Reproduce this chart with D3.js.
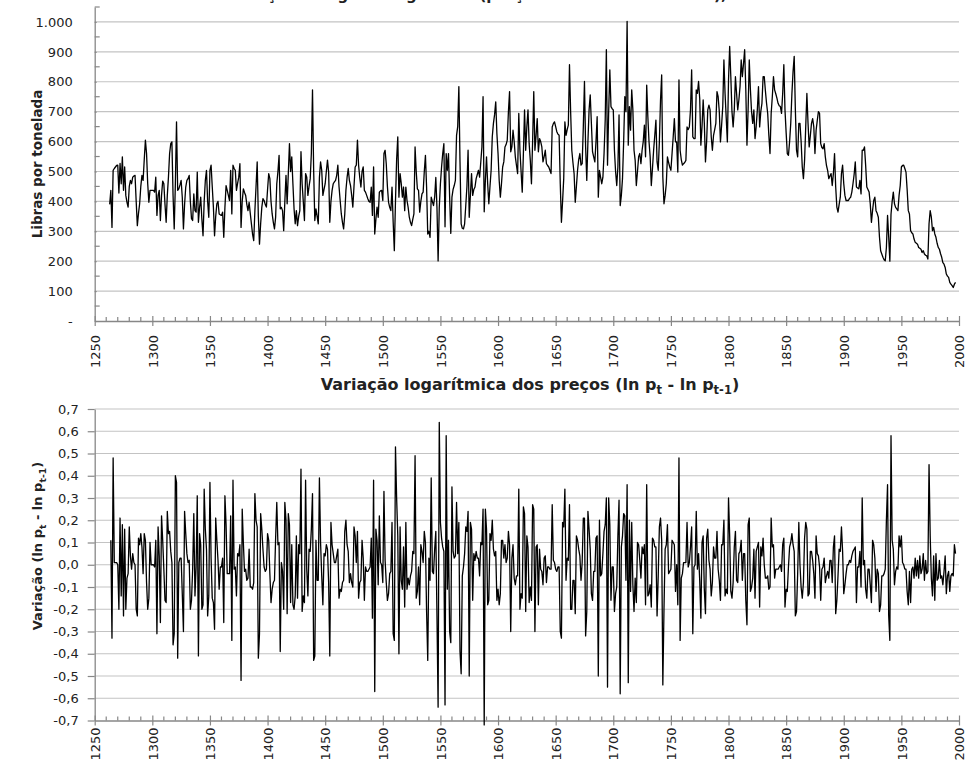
<!DOCTYPE html>
<html>
<head>
<meta charset="utf-8">
<script src="https://cdn.jsdelivr.net/npm/d3@7"></script>
<style>
  body { margin: 0; background: #fff; }
  svg { display: block; }
  text { font-family: "DejaVu Sans", Verdana, sans-serif; }
</style>
</head>
<body>
<svg id="chart" width="973" height="769"></svg>
<script>
// Wheat price, pounds per tonne, one value per year
const firstPriceYear = 1263;
const prices = [
  390,437,313,504,510,515,520,521,428,527,459,549,437,
  515,420,397,381,450,470,459,481,485,487,400,319,360,392,450,
  487,470,540,605,560,459,397,437,437,437,
  437,431,481,353,420,437,336,420,468,459,
  390,330,420,481,560,593,599,420,308,459,
  666,437,442,455,470,414,308,390,448,470,
  476,487,400,342,336,425,369,364,498,330,
  380,414,340,285,400,470,504,400,347,504,
  521,450,381,285,350,392,400,358,355,353,
  364,280,380,453,437,420,403,504,358,521,
  510,504,437,460,481,
  526,313,400,442,430,420,390,369,397,360,
  325,290,269,369,450,532,350,257,325,380,
  409,403,390,381,440,493,476,400,358,330,
  308,347,459,500,554,375,380,369,302,400,
  487,392,493,593,500,549,459,375,325,369,
  319,350,369,566,459,400,336,493,481,420,
  450,476,560,773,504,336,375,350,325,480,
  532,504,420,440,459,500,538,498,330,400,
  437,459,465,470,487,521,450,403,358,330,
  308,358,437,480,510,470,453,420,381,450,
  515,521,605,521,480,448,500,515,437,431,
  420,409,400,397,448,353,515,291,340,381,
  347,431,435,437,403,560,
  571,526,450,397,380,369,448,330,235,400,
  540,616,414,493,460,414,448,369,448,403,
  380,347,330,319,340,358,582,500,442,437,
  364,400,425,431,500,554,448,291,300,280,
  414,400,386,414,480,380,201,380,459,515,
  560,593,315,560,504,560,414,293,414,440,
  453,470,621,650,784,532,325,310,308,325,
  386,450,571,347,420,493,420,440,448,476,
  490,504,481,530,582,750,365,470,549,459,
  392,450,504,616,661,690,733,627,560,470,
  414,460,515,532,582,590,605,700,767,566,
  582,638,600,549,520,493,694,571,500,431,
  560,706,571,650,706,593,
  537,459,600,767,571,620,677,566,610,600,
  582,532,550,571,526,520,515,504,493,649,
  660,666,650,633,625,621,459,330,400,476,
  666,621,640,655,857,700,571,530,493,397,
  450,504,540,560,521,526,650,801,582,470,
  600,706,756,661,566,549,532,600,683,414,
  504,480,459,481,560,672,907,521,700,840,
  717,710,706,571,500,453,515,689,386,420,
  476,599,750,700,1002,588,717,638,773,706,
  571,537,453,500,549,560,526,571,600,655,
  549,789,683,600,549,453,510,571,620,672,
  532,504,600,739,823,481,392,420,459,549,
  530,515,504,560,616,
  677,599,599,498,806,571,540,521,526,530,
  537,649,640,649,706,840,616,610,610,773,
  761,801,745,588,650,739,661,532,600,706,
  722,706,616,571,621,640,661,767,750,700,
  599,655,717,873,761,680,599,806,918,817,
  700,649,706,817,761,706,740,784,873,817,
  860,907,773,588,706,873,773,700,661,706,
  610,650,706,784,649,700,728,817,817,770,
  728,694,620,560,694,750,817,773,760,745,
  728,720,717,694,761,857,706,630,560,554,
  600,661,760,834,885,706,571,549,661,661,
  600,515,476,537,650,761,661,582,620,661,
  677,649,560,638,670,700,
  694,593,580,576,593,549,520,504,476,485,
  493,453,493,560,448,381,364,390,414,493,
  521,459,420,403,403,403,410,414,431,459,
  490,532,448,445,442,470,425,571,571,582,
  520,448,440,431,392,330,370,403,414,369,
  360,347,280,235,224,213,205,201,246,353,
  280,200,357,400,431,392,380,375,369,420,
  453,515,520,521,510,498,440,369,358,302,
  295,291,274,263,260,257,246,243,240,229,
  235,224,220,218,207,325,369,347,302,313,
  291,280,260,246,240,225,213,195,190,179,
  157,150,146,129,123,118,112,123,129
];

// Yearly log change of the price, ln p(t) - ln p(t-1)
const firstChangeYear = 1264;
const logChanges = [
  0.11,-0.33,0.48,0.01,0.01,0.01,0.00,-0.20,0.21,-0.14,0.18,-0.23,
  0.16,-0.20,-0.06,-0.04,0.17,0.04,-0.02,0.05,0.01,0.00,-0.20,-0.23,0.12,0.09,0.14,
  0.08,-0.04,0.14,0.11,-0.08,-0.20,-0.15,0.10,0.00,0.00,
  0.00,-0.01,0.11,-0.31,0.17,0.04,-0.26,0.22,0.11,-0.02,
  -0.16,-0.17,0.24,0.14,0.15,0.06,0.01,-0.36,-0.31,0.40,
  0.37,-0.42,0.01,0.03,0.03,-0.13,-0.30,0.24,0.14,0.05,
  0.01,0.02,-0.20,-0.16,-0.02,0.23,-0.14,-0.01,0.31,-0.41,
  0.14,0.09,-0.20,-0.18,0.34,0.16,0.07,-0.23,-0.14,0.37,
  0.03,-0.15,-0.17,-0.29,0.21,0.11,0.02,-0.11,-0.01,-0.01,
  0.03,-0.26,0.31,0.18,-0.04,-0.04,-0.04,0.22,-0.34,0.38,
  -0.02,-0.01,-0.14,0.05,0.04,0.09,-0.52,0.25,0.10,-0.03,
  -0.02,-0.07,-0.06,0.07,-0.10,-0.10,-0.11,-0.08,0.32,0.20,
  0.17,-0.42,-0.31,0.23,0.16,0.07,-0.01,-0.03,-0.02,0.14,
  0.11,-0.04,-0.17,-0.11,-0.08,-0.07,0.12,0.28,0.09,0.10,
  -0.39,0.01,-0.03,-0.20,0.28,0.20,-0.22,0.23,0.18,-0.17,
  0.09,-0.18,-0.20,-0.14,0.13,-0.15,0.09,0.05,0.43,-0.21,
  -0.14,-0.17,0.38,-0.02,-0.14,0.07,0.06,0.16,0.32,-0.43,
  -0.41,0.11,-0.07,-0.07,0.39,0.10,-0.05,-0.18,0.05,0.04,
  0.09,0.07,-0.08,-0.41,0.19,0.09,0.05,0.01,0.01,0.04,
  0.07,-0.15,-0.11,-0.12,-0.08,-0.07,0.15,0.20,0.09,0.06,
  -0.08,-0.04,-0.08,-0.10,0.17,0.13,0.01,0.15,-0.15,-0.08,
  -0.07,0.11,0.03,-0.16,-0.01,-0.03,-0.03,-0.02,-0.01,0.12,
  -0.24,0.38,-0.57,0.16,0.11,-0.09,0.22,0.01,0.00,-0.08,
  0.33,0.02,-0.08,-0.16,-0.13,-0.04,-0.03,0.19,-0.31,-0.34,
  0.53,0.30,0.13,-0.40,0.17,-0.07,-0.11,0.08,-0.19,0.19,
  -0.11,-0.06,-0.09,-0.05,-0.03,0.06,0.05,0.49,-0.15,-0.12,
  -0.01,-0.18,0.09,0.06,0.01,0.15,0.10,-0.21,-0.43,0.03,
  -0.07,0.39,-0.03,-0.04,0.07,0.15,-0.23,-0.64,0.64,0.19,
  0.12,0.08,0.06,-0.63,0.58,-0.11,0.11,-0.30,-0.35,0.35,
  0.06,0.03,0.04,0.28,0.05,0.19,-0.39,-0.49,-0.05,-0.01,
  0.05,0.17,0.15,0.24,-0.50,0.19,0.16,-0.16,0.05,0.02,
  0.06,0.03,0.03,-0.05,0.10,0.09,0.25,-0.72,0.25,0.16,
  -0.18,-0.16,0.14,0.11,0.20,0.07,0.04,0.06,-0.16,-0.11,
  -0.18,-0.13,0.11,0.11,0.03,0.09,0.01,0.03,0.15,0.09,
  -0.30,0.03,0.09,-0.06,-0.09,-0.05,-0.05,0.34,-0.20,-0.13,
  -0.15,0.26,0.23,-0.21,0.13,0.08,-0.17,-0.10,-0.16,0.27,
  0.25,-0.30,0.08,0.09,-0.18,0.07,-0.02,-0.03,-0.09,0.03,
  0.04,-0.08,-0.01,-0.01,-0.02,-0.02,0.27,0.02,0.01,-0.02,
  -0.03,-0.01,-0.01,-0.30,-0.33,0.19,0.17,0.34,-0.07,0.03,
  0.02,0.27,-0.20,-0.20,-0.07,-0.07,-0.22,0.13,0.11,0.07,
  0.04,-0.07,0.01,0.21,0.21,-0.32,-0.21,0.24,0.16,0.07,
  -0.13,-0.16,-0.03,-0.03,0.12,0.13,-0.50,0.20,-0.05,-0.04,
  0.05,0.15,0.18,0.30,-0.55,0.30,0.18,-0.16,-0.01,-0.01,
  -0.21,-0.13,-0.10,0.13,0.29,-0.58,0.08,0.13,0.23,0.22,
  -0.07,0.36,-0.53,0.20,-0.12,0.19,-0.09,-0.21,-0.06,-0.17,
  0.10,0.09,0.02,-0.06,0.08,0.05,0.09,-0.18,0.36,-0.14,
  -0.13,-0.09,-0.19,0.12,0.11,0.08,0.08,-0.23,-0.05,0.17,
  0.21,0.11,-0.54,-0.20,0.07,0.09,0.18,-0.04,-0.03,-0.02,
  0.11,0.10,0.09,-0.12,0.00,-0.18,0.48,-0.34,-0.06,-0.04,
  0.01,0.01,0.01,0.19,-0.01,0.01,0.08,0.17,-0.31,-0.01,
  0.00,0.24,-0.02,0.05,-0.07,-0.24,0.10,0.13,-0.11,-0.22,
  0.12,0.16,0.02,-0.02,-0.14,-0.08,0.08,0.03,0.03,0.15,
  -0.02,-0.07,-0.16,0.09,0.09,0.20,-0.14,-0.11,-0.13,0.30,
  0.13,-0.12,-0.15,-0.08,0.08,0.15,-0.07,-0.08,0.05,0.06,
  0.11,-0.07,0.05,0.05,-0.16,-0.27,0.18,0.21,-0.12,-0.10,
  -0.06,0.07,-0.15,0.06,0.08,0.10,-0.19,0.08,0.04,0.12,
  0.00,-0.06,-0.06,-0.05,-0.11,-0.10,0.21,0.08,0.09,-0.06,
  -0.02,-0.02,-0.02,-0.01,0.00,-0.03,0.09,0.12,-0.19,-0.11,
  -0.12,-0.01,0.08,0.10,0.14,0.09,0.06,-0.23,-0.21,-0.04,
  0.19,0.00,-0.10,-0.15,-0.08,0.12,0.19,0.16,-0.14,-0.13,
  0.06,0.06,0.02,-0.04,-0.15,0.13,0.05,0.04,-0.01,-0.16,
  -0.02,-0.01,0.03,-0.08,-0.05,-0.03,-0.06,0.02,0.02,-0.08,
  0.08,0.13,-0.22,-0.16,-0.05,0.07,0.06,0.17,0.06,-0.13,
  -0.09,-0.04,0.00,0.00,0.02,0.01,0.04,0.06,0.07,0.08,
  -0.17,-0.01,-0.01,0.06,-0.10,0.30,0.00,0.02,-0.11,-0.15,
  -0.02,-0.02,-0.09,-0.17,0.11,0.09,0.03,-0.12,-0.02,-0.04,
  -0.21,-0.18,-0.05,-0.05,-0.04,-0.02,0.20,0.36,-0.23,-0.34,
  0.58,0.11,0.07,-0.09,-0.03,-0.01,-0.02,0.13,0.08,0.13,
  0.01,0.00,-0.02,-0.02,-0.12,-0.18,-0.03,-0.17,-0.02,-0.01,
  -0.06,0.03,-0.05,0.02,-0.06,0.04,-0.04,-0.02,0.05,-0.07,
  0.02,-0.04,-0.03,0.45,0.13,-0.06,-0.14,0.04,-0.16,0.05,
  -0.07,-0.06,0.02,-0.06,-0.05,-0.09,-0.03,0.04,-0.13,-0.05,
  -0.03,-0.12,-0.05,-0.04,-0.05,0.09,0.05
];

// Axis ticks
const yearTicks = d3.range(1250, 2001, 50);
const yearMinorTicks = d3.range(1250, 2001, 10).filter(y => y % 50 !== 0);
const priceTicks = d3.range(0, 1001, 100);
const priceMinorTicks = d3.range(50, 1051, 100);
const changeTicks = d3.range(-7, 8).map(d => d / 10);

const topTitle = "Preço do trigo na Inglaterra (preços constantes de 1996), 1263-1997";
const priceAxisTitle = "Libras por tonelada";

const ptLocale = d3.formatLocale({ decimal: ",", thousands: ".", grouping: [3], currency: ["", ""], minus: "-" });
const fmtPrice = v => v === 0 ? "-" : ptLocale.format(",d")(v);
const fmtChange = ptLocale.format(".1f");

const svg = d3.select("#chart");
const gridColor = "#c3c3c3";
const axisColor = "#878787";
const labelColor = "#222";

const xLeft = 94.7, xRight = 959;

function styleAxis(g) {
  g.selectAll("path.domain").attr("stroke", axisColor).attr("stroke-width", 1.3);
  g.selectAll(".tick line").attr("stroke", axisColor).attr("stroke-width", 1.2);
  g.selectAll("text").attr("fill", labelColor).attr("font-size", 13)
    .attr("font-family", "DejaVu Sans, Verdana, sans-serif");
}

// Year axis: labelled ticks every 50 years, small inner ticks every 10
function yearAxis(g, x, y0, labelGap) {
  const ax = g.append("g").attr("transform", `translate(0,${y0})`)
    .call(d3.axisBottom(x).tickValues(yearTicks).tickFormat(d3.format("d")).tickSize(5).tickSizeOuter(0));
  styleAxis(ax);
  ax.selectAll(".tick line").attr("y1", -5);
  ax.selectAll(".tick text")
    .attr("transform", "rotate(-90)")
    .attr("x", -labelGap).attr("y", 0).attr("dy", "0.36em")
    .attr("text-anchor", "end");
  g.append("g").attr("transform", `translate(0,${y0})`)
    .selectAll("line").data(yearMinorTicks).join("line")
    .attr("x1", d => x(d)).attr("x2", d => x(d))
    .attr("y1", 0).attr("y2", -4)
    .attr("stroke", axisColor).attr("stroke-width", 1.2);
}

// Text with "p_t" style subscripts
function subTitle(sel, parts) {
  parts.forEach(p => {
    const t = sel.append("tspan").text(p.t);
    if (p.sub) t.attr("font-size", "72%").attr("dy", p.dy);
    else if (p.dy) t.attr("dy", p.dy);
  });
}
const lnParts = [
  { t: "t", sub: true, dy: 4 },
  { t: " - ln p", dy: -4 },
  { t: "t-1", sub: true, dy: 4 },
  { t: ")", dy: -4 }
];

// ---------- upper panel: prices ----------
const xTop = d3.scaleLinear().domain([1250, 2000]).range([xLeft, xRight]);
const yTop = d3.scaleLinear().domain([0, 1050]).range([321, 7]);

const pricePanel = svg.append("g");

pricePanel.append("text")
  .attr("x", 530).attr("y", 0)
  .attr("text-anchor", "middle")
  .attr("font-size", 15).attr("font-weight", "bold")
  .attr("fill", "#222")
  .text(topTitle);

pricePanel.append("g").selectAll("line")
  .data(priceTicks.filter(d => d > 0))
  .join("line")
  .attr("x1", xLeft).attr("x2", xRight)
  .attr("y1", d => yTop(d)).attr("y2", d => yTop(d))
  .attr("stroke", gridColor).attr("stroke-width", 1.2);

const yAxisTop = pricePanel.append("g").attr("transform", `translate(${xLeft},0)`)
  .call(d3.axisLeft(yTop).tickValues(priceTicks).tickFormat(fmtPrice).tickSize(7).tickSizeOuter(0).tickPadding(15));
styleAxis(yAxisTop);
yAxisTop.selectAll(".tick line").attr("x2", 2);
pricePanel.append("g").attr("transform", `translate(${xLeft},0)`)
  .selectAll("line").data(priceMinorTicks).join("line")
  .attr("x1", 0).attr("x2", 5)
  .attr("y1", d => yTop(d)).attr("y2", d => yTop(d))
  .attr("stroke", axisColor).attr("stroke-width", 1.2);

yearAxis(pricePanel, xTop, yTop(0), 14);

pricePanel.append("text")
  .attr("transform", `translate(37,${(yTop(0) + yTop(1050)) / 2}) rotate(-90)`)
  .attr("text-anchor", "middle").attr("dy", "0.35em")
  .attr("font-size", 13.5).attr("font-weight", "bold").attr("fill", "#222")
  .text(priceAxisTitle);

const priceLine = d3.line()
  .x((d, i) => xTop(firstPriceYear + i))
  .y(d => yTop(d));
pricePanel.append("path")
  .datum(prices)
  .attr("d", priceLine)
  .attr("fill", "none").attr("stroke", "#000")
  .attr("stroke-width", 1.3).attr("stroke-linejoin", "round");

// ---------- lower panel: log changes ----------
const xBot = d3.scaleLinear().domain([1250, 2000]).range([xLeft, xRight]);
const yBot = d3.scaleLinear().domain([-0.7, 0.7]).range([720.5, 409]);
const changePanel = svg.append("g");

const bTitle = changePanel.append("text")
  .attr("x", 530).attr("y", 390)
  .attr("text-anchor", "middle")
  .attr("font-size", 16).attr("font-weight", "bold").attr("fill", "#222");
subTitle(bTitle, [{ t: "Variação logarítmica dos preços (ln p" }, ...lnParts]);

changePanel.append("g").selectAll("line")
  .data(changeTicks.filter(d => d > -0.65))
  .join("line")
  .attr("x1", xLeft).attr("x2", xRight)
  .attr("y1", d => yBot(d)).attr("y2", d => yBot(d))
  .attr("stroke", gridColor).attr("stroke-width", 1.2);

const yAxisBot = changePanel.append("g").attr("transform", `translate(${xLeft},0)`)
  .call(d3.axisLeft(yBot).tickValues(changeTicks).tickFormat(fmtChange).tickSize(7).tickSizeOuter(0).tickPadding(9));
styleAxis(yAxisBot);

yearAxis(changePanel, xBot, yBot(-0.7), 7);

const bYTitle = changePanel.append("text")
  .attr("transform", `translate(37,546) rotate(-90)`)
  .attr("text-anchor", "middle").attr("dy", "0.35em")
  .attr("font-size", 13).attr("font-weight", "bold").attr("fill", "#222");
subTitle(bYTitle, [{ t: "Variação  (ln p" }, ...lnParts]);

const changeLine = d3.line()
  .x((d, i) => xBot(firstChangeYear + i))
  .y(d => yBot(d));
changePanel.append("path")
  .datum(logChanges)
  .attr("d", changeLine)
  .attr("fill", "none").attr("stroke", "#000")
  .attr("stroke-width", 1.3).attr("stroke-linejoin", "round");
</script>
</body>
</html>
